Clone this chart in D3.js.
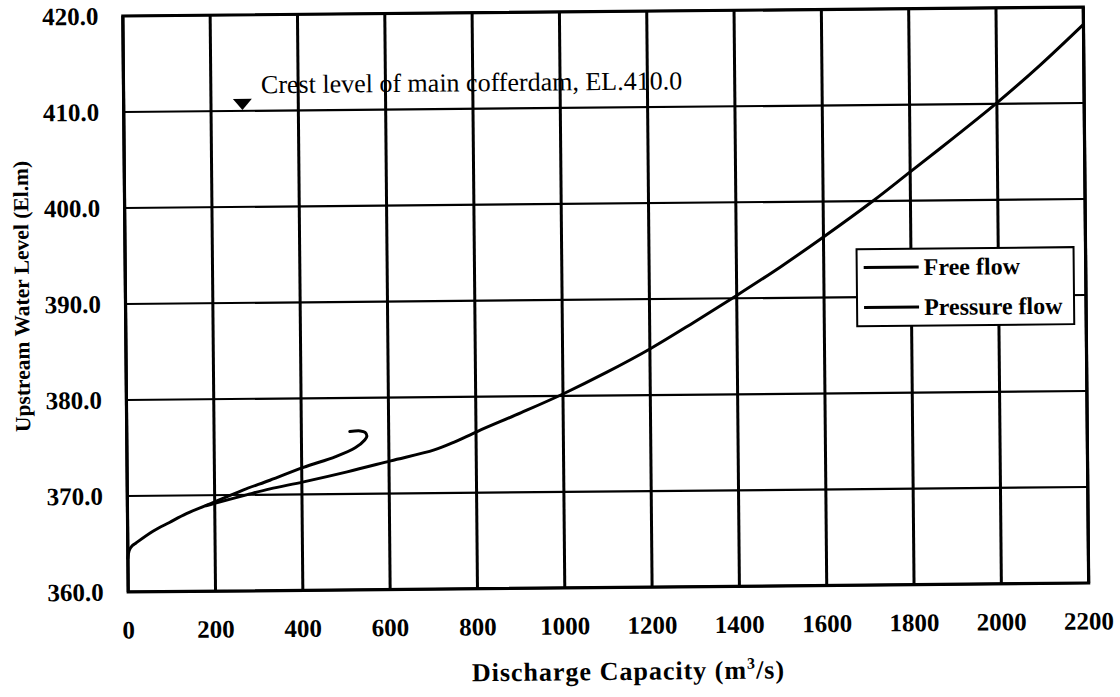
<!DOCTYPE html>
<html>
<head>
<meta charset="utf-8">
<script src="https://cdn.jsdelivr.net/npm/d3@7"></script>
<style>
    html, body { margin: 0; padding: 0; background: #fff; }
    svg { display: block; }
    text { font-family: "Liberation Serif", "Times New Roman", serif; fill: #000; }
</style>
</head>
<body>
<svg id="chart" width="1120" height="697"></svg>
<script>
// discharge (m3/s) vs upstream level (El.m)
var freeQ = [ 0, 3, 10, 19, 58, 96, 135, 200, 265, 327, 404, 478, 523, 545, 550, 546, 535, 511 ];
var freeZ = [ 363.5, 364.3, 364.8, 365.1, 366.3, 367.2, 368.1, 369.3, 370.5, 371.5, 372.8, 373.9, 374.8, 375.6, 376.0, 376.4, 376.55, 376.5 ];

var pressQ = [ 180, 200, 273, 327, 404, 504, 604, 704, 750, 804, 904, 1000, 1100, 1200, 1300, 1400, 1500, 1600, 1714, 1800, 1900, 2000, 2100, 2200 ];
var pressZ = [ 368.9, 369.15, 370.0, 370.6, 371.3, 372.3, 373.4, 374.5, 375.3, 376.4, 378.3, 380.2, 382.4, 384.8, 387.5, 390.3, 393.2, 396.3, 400.0, 403.0, 406.5, 410.1, 414.0, 418.2 ];

var xTicks = [ 0, 200, 400, 600, 800, 1000, 1200, 1400, 1600, 1800, 2000, 2200 ];
var yTicks = [ 360, 370, 380, 390, 400, 410, 420 ];

var seriesNames = [ "Free flow", "Pressure flow" ];
var crestLevel = 410.0;
var crestMarkQ = 272;
var crestText = "Crest level of main cofferdam, EL.410.0";

(function () {
    var svg = d3.select( "#chart" );
    var left = 125.5, right = 1086, top = 11.5, bottom = 587.5;

    var x = d3.scaleLinear().domain( [ 0, 2200 ] ).range( [ left, right ] );
    var y = d3.scaleLinear().domain( [ 360, 420 ] ).range( [ bottom, top ] );

    // the scan is tilted a little, so is the whole drawing
    var g = svg.append( "g" )
        .attr( "transform", "rotate(-0.535," + ( left + right ) / 2 + "," + ( top + bottom ) / 2 + ")" );

    // grid: vertical lines heavier than horizontal ones
    g.append( "g" ).selectAll( "line" )
        .data( yTicks )
        .enter().append( "line" )
        .attr( "x1", left ).attr( "x2", right )
        .attr( "y1", function ( d ) { return y( d ) } )
        .attr( "y2", function ( d ) { return y( d ) } )
        .attr( "stroke", "#000" )
        .attr( "stroke-width", 2.2 );

    g.append( "g" ).selectAll( "line" )
        .data( xTicks )
        .enter().append( "line" )
        .attr( "x1", function ( d ) { return x( d ) } )
        .attr( "x2", function ( d ) { return x( d ) } )
        .attr( "y1", top ).attr( "y2", bottom )
        .attr( "stroke", "#000" )
        .attr( "stroke-width", 3 );

    g.append( "rect" )
        .attr( "x", left ).attr( "y", top )
        .attr( "width", right - left ).attr( "height", bottom - top )
        .attr( "fill", "none" )
        .attr( "stroke", "#000" )
        .attr( "stroke-width", 3.2 );

    // tick labels
    g.append( "g" ).selectAll( "text" )
        .data( yTicks )
        .enter().append( "text" )
        .attr( "x", 101 )
        .attr( "y", function ( d ) { return y( d ) + 8.5 } )
        .attr( "text-anchor", "end" )
        .attr( "font-size", 25 )
        .attr( "font-weight", "bold" )
        .text( function ( d ) { return d3.format( ".1f" )( d ) } );

    g.append( "g" ).selectAll( "text" )
        .data( xTicks )
        .enter().append( "text" )
        .attr( "x", function ( d ) { return x( d ) } )
        .attr( "y", 634 )
        .attr( "text-anchor", "middle" )
        .attr( "font-size", 25 )
        .attr( "font-weight", "bold" )
        .text( function ( d ) { return d } );

    // axis titles
    var xt = g.append( "text" )
        .attr( "x", 625 ).attr( "y", 680 )
        .attr( "text-anchor", "middle" )
        .attr( "font-size", 26 )
        .attr( "letter-spacing", 1 )
        .attr( "font-weight", "bold" );
    xt.append( "tspan" ).text( "Discharge Capacity (m" );
    xt.append( "tspan" ).attr( "dy", -10 ).attr( "font-size", 16 ).text( "3" );
    xt.append( "tspan" ).attr( "dy", 10 ).text( "/s)" );

    g.append( "text" )
        .attr( "transform", "translate(29,291) rotate(-90)" )
        .attr( "text-anchor", "middle" )
        .attr( "font-size", 21.5 )
        .attr( "font-weight", "bold" )
        .text( "Upstream Water Level (El.m)" );

    // crest annotation
    var cx = x( crestMarkQ ), cy = y( crestLevel ) - 1;
    g.append( "path" )
        .attr( "d", "M" + ( cx - 9.5 ) + "," + ( cy - 11 ) + "L" + ( cx + 9.5 ) + "," + ( cy - 11 ) + "L" + cx + "," + cy + "Z" )
        .attr( "fill", "#000" );
    g.append( "text" )
        .attr( "x", 263 ).attr( "y", 90 )
        .attr( "font-size", 26 )
        .text( crestText );

    // curves
    var line = d3.line()
        .x( function ( d ) { return x( d[ 0 ] ) } )
        .y( function ( d ) { return y( d[ 1 ] ) } )
        .curve( d3.curveCatmullRom.alpha( 0.5 ) );

    var series = [ d3.zip( freeQ, freeZ ), d3.zip( pressQ, pressZ ) ];
    g.append( "g" ).selectAll( "path" )
        .data( series )
        .enter().append( "path" )
        .attr( "d", line )
        .attr( "fill", "none" )
        .attr( "stroke", "#000" )
        .attr( "stroke-width", 3 )
        .attr( "stroke-linejoin", "round" )
        .attr( "stroke-linecap", "round" );

    // legend
    var lg = g.append( "g" ).attr( "transform", "translate(857,251.5)" );
    lg.append( "rect" )
        .attr( "width", 217 ).attr( "height", 77 )
        .attr( "fill", "#fff" )
        .attr( "stroke", "#000" )
        .attr( "stroke-width", 2 );
    var items = lg.selectAll( "g" )
        .data( seriesNames )
        .enter().append( "g" )
        .attr( "transform", function ( d, i ) { return "translate(0," + ( 18.5 + i * 40 ) + ")" } );
    items.append( "line" )
        .attr( "x1", 7 ).attr( "x2", 62 )
        .attr( "stroke", "#000" )
        .attr( "stroke-width", 3 );
    items.append( "text" )
        .attr( "x", 67 ).attr( "y", 8 )
        .attr( "font-size", 24 )
        .attr( "font-weight", "bold" )
        .text( function ( d ) { return d } );
})();
</script>
</body>
</html>
